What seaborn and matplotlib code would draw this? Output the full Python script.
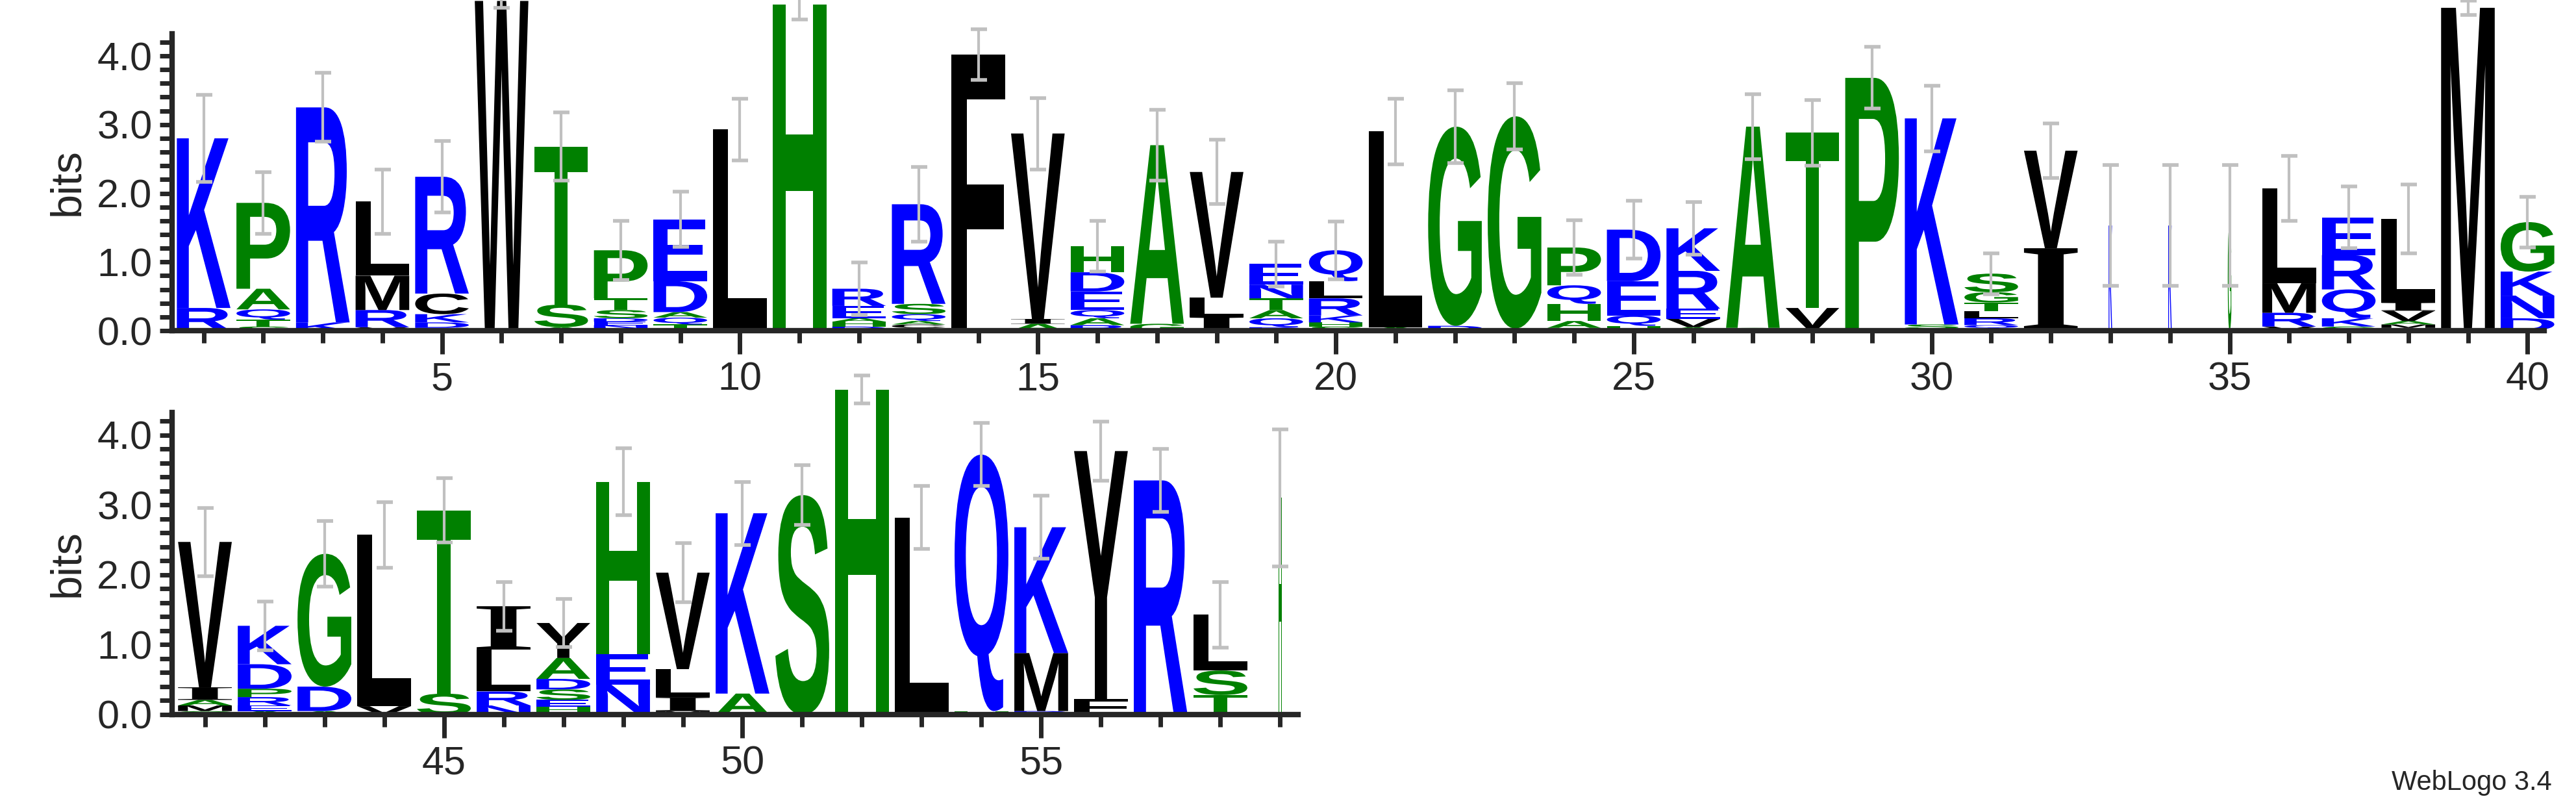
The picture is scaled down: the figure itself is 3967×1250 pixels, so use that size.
import numpy as np
import matplotlib
matplotlib.use("Agg")
import matplotlib.pyplot as plt
import seaborn as sns
from matplotlib.textpath import TextPath
from matplotlib.font_manager import FontProperties
from matplotlib.patches import PathPatch
from matplotlib.transforms import Affine2D

# ---------------- data (bottom-to-top letters per position) ----------------
positions = list(range(1, 60))
residues = [
    "RK", "STQAP", "KR", "VRML", "VDKCR", "W", "AST", "VNEDSTP", "STQADE", "L",
    "H", "DHAER", "HCAQSR", "F", "AIV", "RAQEDH", "GA", "ILV", "DQATNE", "SHKRLQ",
    "AL", "DG", "AG", "TAHQP", "HQED", "AVERK", "GA", "RVT", "P", "TSK",
    "AQRLTGS", "IV", "K", "K", "G", "VRML", "GKQRE", "TMAVIL", "M", "DNKG",
    "GMAIV", "AERPDK", "ADG", "VL", "ST", "NRLI", "THESDAY", "SNEH", "MILV", "AK",
    "S", "H", "L", "HQ", "RMK", "FY", "R", "NTSL", "H",
]
heights = [
    [0.33, 2.47], [0.06, 0.1, 0.15, 0.3, 1.25], [0.12, 3.13], [0.05, 0.25, 0.5, 1.08],
    [0.04, 0.08, 0.12, 0.3, 1.7], [4.8], [0.05, 0.33, 2.3], [0.03, 0.05, 0.05, 0.05, 0.12, 0.17, 0.7],
    [0.03, 0.06, 0.1, 0.08, 0.45, 0.9], [2.93],
    [4.75], [0.06, 0.07, 0.05, 0.18, 0.25, 0.27], [0.04, 0.05, 0.05, 0.1, 0.15, 1.45], [4.02],
    [0.1, 0.07, 2.7], [0.08, 0.1, 0.12, 0.27, 0.28, 0.38], [0.1, 2.6], [0.2, 0.28, 1.83],
    [0.05, 0.13, 0.12, 0.17, 0.2, 0.3], [0.06, 0.06, 0.1, 0.25, 0.25, 0.45],
    [0.05, 2.85], [0.07, 2.9], [0.03, 3.09], [0.04, 0.1, 0.25, 0.27, 0.55],
    [0.07, 0.15, 0.5, 0.75], [0.05, 0.12, 0.15, 0.55, 0.62], [0.04, 2.93], [0.03, 0.3, 2.55],
    [3.68], [0.03, 0.06, 3.0],
    [0.03, 0.05, 0.1, 0.1, 0.13, 0.15, 0.27], [1.2, 1.42], [1.53], [1.53], [1.53],
    [0.06, 0.2, 0.43, 1.38], [0.06, 0.12, 0.42, 0.5, 0.55], [0.04, 0.05, 0.05, 0.15, 0.12, 1.22],
    [4.7], [0.18, 0.33, 0.35, 0.72],
    [0.05, 0.08, 0.08, 0.18, 2.08], [0.05, 0.08, 0.12, 0.12, 0.35, 0.55], [0.05, 0.35, 1.9],
    [0.12, 2.45], [0.3, 2.62], [0.13, 0.2, 0.6, 0.62],
    [0.03, 0.08, 0.1, 0.15, 0.15, 0.3, 0.5], [0.03, 0.4, 0.43, 2.47], [0.05, 0.2, 0.4, 1.38],
    [0.3, 2.58],
    [3.14], [4.65], [2.82], [0.05, 3.67], [0.05, 0.83, 1.8], [0.22, 3.55], [3.35],
    [0.03, 0.25, 0.35, 0.8], [3.1],
]
errors = [
    0.63, 0.45, 0.5, 0.47, 0.52, 0.1, 0.5, 0.43, 0.4, 0.45,
    0.22, 0.38, 0.54, 0.37, 0.52, 0.37, 0.52, 0.47, 0.33, 0.42,
    0.48, 0.53, 0.48, 0.4, 0.42, 0.38, 0.47, 0.48, 0.45, 0.48,
    0.3, 0.4, 0.88, 0.88, 0.88, 0.47, 0.45, 0.5, 0.1, 0.37,
    0.49, 0.35, 0.47, 0.47, 0.46, 0.35, 0.34, 0.48, 0.42, 0.45,
    0.43, 0.2, 0.45, 0.45, 0.45, 0.42, 0.45, 0.47, 0.98,
]
thin_positions = [33, 34, 35, 59]

blue = set("KRQEDN")
green = set("AGHPST")
def colour(c):
    if c in blue:
        return "#0000ff"
    if c in green:
        return "#008000"
    return "#000000"

sns.set_style("ticks")
plt.rcParams["font.family"] = ["Liberation Sans", "DejaVu Sans"]
fp = FontProperties(family="Liberation Sans", weight="bold")
fp_serif = FontProperties(family="Liberation Serif", weight="bold")
glyph_cache = {}
def glyph(c):
    if c not in glyph_cache:
        glyph_cache[c] = TextPath((0, 0), c, size=1, prop=fp_serif if c == "I" else fp)
    return glyph_cache[c]

def draw_letter(ax, c, x, y0, w, h):
    p = glyph(c)
    ext = p.get_extents()
    t = (Affine2D().translate(-ext.x0, -ext.y0)
         .scale(w / ext.width, h / ext.height)
         .translate(x - w / 2, y0))
    ax.add_patch(PathPatch(t.transform_path(p), facecolor=colour(c),
                           edgecolor="none", clip_on=False))

W, H = 3967, 1250
fig = plt.figure(figsize=(W / 100, H / 100), dpi=100)
ax1 = fig.add_axes([265 / W, 1 - 509 / H, (3918 - 265) / W, (509 - 52) / H])
ax2 = fig.add_axes([265 / W, 1 - 1100 / H, (1999 - 265) / W, (1100 - 635) / H])
ymax = np.log2(20)

for ax, lo, hi, xl in [(ax1, 1, 40, (0.47, 40.28)), (ax2, 41, 59, (40.45, 59.3))]:
    for pos, res, hs, err in zip(positions, residues, heights, errors):
        if not (lo <= pos <= hi):
            continue
        w = 0.06 if pos in thin_positions else 0.9
        y = 0.0
        for c, h in zip(res, hs):
            draw_letter(ax, c, pos, y, w, h)
            y += h
        ax.errorbar([pos], [y], yerr=[err], color="#c0c0c0", lw=3,
                    capsize=9, capthick=4, clip_on=False, zorder=5)
    ax.set_xlim(*xl)
    ax.set_ylim(0, ymax)
    ax.set_xticks([p for p in range(lo, hi + 1) if p % 5 == 0])
    ax.set_xticks(range(lo, hi + 1), minor=True)
    ax.set_yticks([0, 1, 2, 3, 4])
    ax.set_yticklabels(["0.0", "1.0", "2.0", "3.0", "4.0"])
    ax.set_yticks(np.arange(0, 4.3, 0.2), minor=True)
    ax.tick_params(axis="both", which="major", labelsize=44, width=5, length=26, pad=8)
    ax.tick_params(axis="both", which="minor", width=5, length=14)
    ax.tick_params(axis="y", which="major", length=14)
    ax.set_ylabel("bits", fontsize=48, labelpad=10)
    for s in ["left", "bottom"]:
        ax.spines[s].set_linewidth(6)
    sns.despine(ax=ax)

fig.text(3930 / W, 1 - 1225 / H, "WebLogo 3.4", ha="right", va="bottom", fontsize=30)
fig.savefig("out.png", dpi=100, facecolor="white")
